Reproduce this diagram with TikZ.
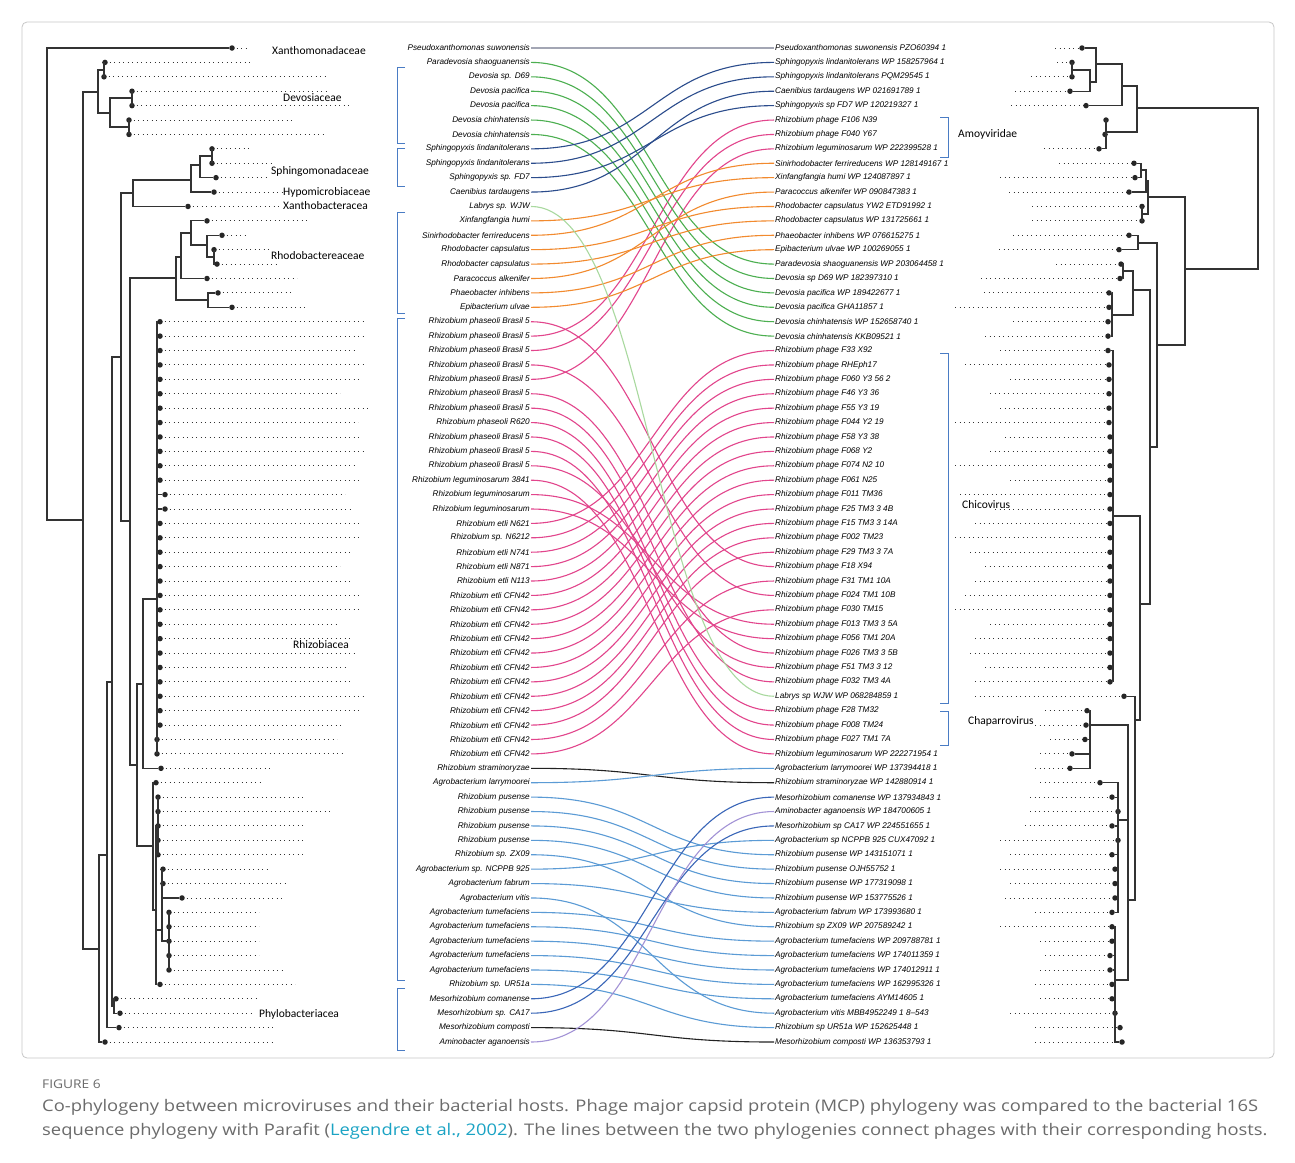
\documentclass[tikz,border=0pt]{standalone}
\usepackage{fontspec}
\setmainfont{Liberation Sans}
\newfontfamily\famfont{Carlito}
\newfontfamily\capfont{Open Sans}[FakeStretch=1.148]
\definecolor{cgray}{HTML}{A3A6B4}
\definecolor{cgreen}{HTML}{4CAF50}
\definecolor{cnavy}{HTML}{2B4C8C}
\definecolor{cpale}{HTML}{A9D99F}
\definecolor{corange}{HTML}{F28A2E}
\definecolor{cpink}{HTML}{E2458C}
\definecolor{cblack}{HTML}{222222}
\definecolor{csky}{HTML}{5B9BD5}
\definecolor{cblue}{HTML}{3A66B8}
\definecolor{cviolet}{HTML}{A393D6}
\definecolor{cbracket}{HTML}{4A7CC4}
\definecolor{cteal}{HTML}{1AA3C4}
\newcommand{\ry}[1]{48+(#1-1)*14.406}
\tikzset{
  hostlbl/.style={anchor=east,inner sep=1pt,font=\fontsize{8.2}{9}\selectfont\itshape},
  phagelbl/.style={anchor=west,inner sep=1pt,font=\fontsize{8.2}{9}\selectfont\itshape},
  famlbl/.style={anchor=west,inner sep=0pt,font=\famfont\fontsize{11.5}{12}\selectfont},
  tipdot/.style={circle,fill=black!85,inner sep=0pt,minimum size=5.5pt},
  branch/.style={draw=black!80,line width=1.2pt},
  leader/.style={black!80,line width=0.9pt,dash pattern=on 0.9pt off 3.6pt},
  link/.style={line width=1.1pt},
  clade/.style={draw=cbracket,line width=0.9pt},
  captxt/.style={anchor=west,inner sep=0pt,text=black!58,font=\capfont\fontsize{16}{18}\selectfont}
}
\begin{document}
\begin{tikzpicture}[x=1pt,y=-1pt]
\useasboundingbox (0,0) rectangle (1295,1162);
\fill[white] (0,0) rectangle (1295,1162);
\draw[black!22,line width=0.8pt,rounded corners=5pt] (22,22) rectangle (1274,1058);

% host names
\foreach \n/\t in {1/Pseudoxanthomonas suwonensis,2/Paradevosia shaoguanensis,3/Devosia sp. D69,4/Devosia pacifica,5/Devosia pacifica,6/Devosia chinhatensis,7/Devosia chinhatensis,8/Sphingopyxis lindanitolerans,9/Sphingopyxis lindanitolerans,10/Sphingopyxis sp. FD7,11/Caenibius tardaugens,12/Labrys sp. WJW,13/Xinfangfangia humi,14/Sinirhodobacter ferrireducens,15/Rhodobacter capsulatus,16/Rhodobacter capsulatus,17/Paracoccus alkenifer,18/Phaeobacter inhibens,19/Epibacterium ulvae,20/Rhizobium phaseoli Brasil 5,21/Rhizobium phaseoli Brasil 5,22/Rhizobium phaseoli Brasil 5,23/Rhizobium phaseoli Brasil 5,24/Rhizobium phaseoli Brasil 5,25/Rhizobium phaseoli Brasil 5,26/Rhizobium phaseoli Brasil 5,27/Rhizobium phaseoli R620,28/Rhizobium phaseoli Brasil 5,29/Rhizobium phaseoli Brasil 5,30/Rhizobium phaseoli Brasil 5,31/Rhizobium leguminosarum 3841,32/Rhizobium leguminosarum,33/Rhizobium leguminosarum,34/Rhizobium etli N621,35/Rhizobium sp. N6212,36/Rhizobium etli N741,37/Rhizobium etli N871,38/Rhizobium etli N113,39/Rhizobium etli CFN42,40/Rhizobium etli CFN42,41/Rhizobium etli CFN42,42/Rhizobium etli CFN42,43/Rhizobium etli CFN42,44/Rhizobium etli CFN42,45/Rhizobium etli CFN42,46/Rhizobium etli CFN42,47/Rhizobium etli CFN42,48/Rhizobium etli CFN42,49/Rhizobium etli CFN42,50/Rhizobium etli CFN42,51/Rhizobium straminoryzae,52/Agrobacterium larrymoorei,53/Rhizobium pusense,54/Rhizobium pusense,55/Rhizobium pusense,56/Rhizobium pusense,57/Rhizobium sp. ZX09,58/Agrobacterium sp. NCPPB 925,59/Agrobacterium fabrum,60/Agrobacterium vitis,61/Agrobacterium tumefaciens,62/Agrobacterium tumefaciens,63/Agrobacterium tumefaciens,64/Agrobacterium tumefaciens,65/Agrobacterium tumefaciens,66/Rhizobium sp. UR51a,67/Mesorhizobium comanense,68/Mesorhizobium sp. CA17,69/Mesorhizobium composti,70/Aminobacter aganoensis}
  \node[hostlbl] (h\n) at (531,{\ry{\n}}) {\t};

% phage names
\foreach \n/\t in {1/Pseudoxanthomonas suwonensis PZO60394 1,2/Sphingopyxis lindanitolerans WP 158257964 1,3/Sphingopyxis lindanitolerans PQM29545 1,4/Caenibius tardaugens WP 021691789 1,5/Sphingopyxis sp FD7 WP 120219327 1,6/Rhizobium phage F106 N39,7/Rhizobium phage F040 Y67,8/Rhizobium leguminosarum WP 222399528 1,9/Sinirhodobacter ferrireducens WP 128149167 1,10/Xinfangfangia humi WP 124087897 1,11/Paracoccus alkenifer WP 090847383 1,12/Rhodobacter capsulatus YW2 ETD91992 1,13/Rhodobacter capsulatus WP 131725661 1,14/Phaeobacter inhibens WP 076615275 1,15/Epibacterium ulvae WP 100269055 1,16/Paradevosia shaoguanensis WP 203064458 1,17/Devosia sp D69 WP 182397310 1,18/Devosia pacifica WP 189422677 1,19/Devosia pacifica GHA11857 1,20/Devosia chinhatensis WP 152658740 1,21/Devosia chinhatensis KKB09521 1,22/Rhizobium phage F33 X92,23/Rhizobium phage RHEph17,24/Rhizobium phage F060 Y3 56 2,25/Rhizobium phage F46 Y3 36,26/Rhizobium phage F55 Y3 19,27/Rhizobium phage F044 Y2 19,28/Rhizobium phage F58 Y3 38,29/Rhizobium phage F068 Y2,30/Rhizobium phage F074 N2 10,31/Rhizobium phage F061 N25,32/Rhizobium phage F011 TM36,33/Rhizobium phage F25 TM3 3 4B,34/Rhizobium phage F15 TM3 3 14A,35/Rhizobium phage F002 TM23,36/Rhizobium phage F29 TM3 3 7A,37/Rhizobium phage F18 X94,38/Rhizobium phage F31 TM1 10A,39/Rhizobium phage F024 TM1 10B,40/Rhizobium phage F030 TM15,41/Rhizobium phage F013 TM3 3 5A,42/Rhizobium phage F056 TM1 20A,43/Rhizobium phage F026 TM3 3 5B,44/Rhizobium phage F51 TM3 3 12,45/Rhizobium phage F032 TM3 4A,46/Labrys sp WJW WP 068284859 1,47/Rhizobium phage F28 TM32,48/Rhizobium phage F008 TM24,49/Rhizobium phage F027 TM1 7A,50/Rhizobium leguminosarum WP 222271954 1,51/Agrobacterium larrymoorei WP 137394418 1,52/Rhizobium straminoryzae WP 142880914 1,53/Mesorhizobium comanense WP 137934843 1,54/Aminobacter aganoensis WP 184700605 1,55/Mesorhizobium sp CA17 WP 224551655 1,56/Agrobacterium sp NCPPB 925 CUX47092 1,57/Rhizobium pusense WP 143151071 1,58/Rhizobium pusense OJH55752 1,59/Rhizobium pusense WP 177319098 1,60/Rhizobium pusense WP 153775526 1,61/Agrobacterium fabrum WP 173993680 1,62/Rhizobium sp ZX09 WP 207589242 1,63/Agrobacterium tumefaciens WP 209788781 1,64/Agrobacterium tumefaciens WP 174011359 1,65/Agrobacterium tumefaciens WP 174012911 1,66/Agrobacterium tumefaciens WP 162995326 1,67/Agrobacterium tumefaciens AYM14605 1,68/Agrobacterium vitis MBB4952249 1 8–543,69/Rhizobium sp UR51a WP 152625448 1,70/Mesorhizobium composti WP 136353793 1}
  \node[phagelbl] (p\n) at (774,{\ry{\n}}) {\t};

% host -> phage links
\foreach \a/\b/\c in {20/37/cpink,21/6/cpink,22/7/cpink,23/39/cpink,24/8/cpink,25/43/cpink,26/45/cpink,27/47/cpink,28/48/cpink,29/49/cpink,30/44/cpink,31/50/cpink,32/41/cpink,33/42/cpink,34/22/cpink,35/23/cpink,36/24/cpink,37/25/cpink,38/26/cpink,39/27/cpink,40/28/cpink,41/29/cpink,42/30/cpink,43/31/cpink,44/32/cpink,45/33/cpink,46/34/cpink,47/35/cpink,48/36/cpink,49/38/cpink,50/40/cpink,1/1/cgray,2/16/cgreen,3/17/cgreen,4/18/cgreen,5/19/cgreen,6/20/cgreen,7/21/cgreen,13/10/corange,14/9/corange,15/12/corange,16/13/corange,17/11/corange,18/14/corange,19/15/corange,8/2/cnavy,9/3/cnavy,10/5/cnavy,11/4/cnavy,12/46/cpale,51/52/cblack,52/51/csky,53/57/csky,54/58/csky,55/59/csky,56/60/csky,57/62/csky,58/56/csky,59/61/csky,60/68/csky,61/63/csky,62/64/csky,63/65/csky,64/66/csky,65/67/csky,66/69/csky,67/53/cblue,68/55/cblue,69/70/cblack,70/54/cviolet}
  \draw[link,\c] (h\a.east) .. controls +(120,0) and +(-120,0) .. (p\b.west);

% clade brackets
\foreach \u/\v in {67/143,148/186,212/313,318/980,988/1050}
  \draw[clade] (405,\u) -- (397,\u) -- (397,\v) -- (405,\v);
\foreach \u/\v in {117/157,353/703,711/745}
  \draw[clade] (940,\u) -- (948,\u) -- (948,\v) -- (940,\v);

% left tree: tips
\foreach \n/\x/\e in {1/232/248,2/105/253,3/104/328,4/132/327,5/132/352,6/129/295,7/129/325,8/212/252,9/212/272,10/216/268,11/214/283,12/188/282,13/207/307,14/222/248,15/214/270,16/217/278,17/207/297,18/218/293,19/232/308,20/160/363,21/160/365,22/160/355,23/160/365,24/160/360,25/160/340,26/160/370,27/160/358,28/160/362,29/160/366,30/160/355,31/160/360,32/165/345,33/165/352,34/160/362,35/160/360,36/160/352,37/160/340,38/160/350,39/160/360,40/160/362,41/160/338,42/160/350,43/160/355,44/160/345,45/160/350,46/160/365,47/160/360,48/160/342,49/157/337,50/157/342,51/161/272,52/156/262,53/158/303,54/158/333,55/158/303,56/158/303,57/158/303,58/163/268,59/163/288,60/182/282,61/169/259,62/169/259,63/169/259,64/169/259,65/169/283,66/160/295,67/116/257,68/120/253,69/119/275,70/105/275}{
  \draw[leader] (\x,{\ry{\n}}) -- (\e,{\ry{\n}});
  \node[tipdot] (lt\n) at (\x,{\ry{\n}}) {};
}

% left tree: inner nodes
\coordinate (L0) at (47,284);   \coordinate (Lb) at (83,520);
\coordinate (Ld) at (98,92);    \coordinate (Ld1) at (104,70);
\coordinate (Ld2) at (110,113); \coordinate (Ld3) at (132,98);
\coordinate (Ld4) at (129,127); \coordinate (Lp) at (99,949);
\coordinate (Lq) at (107,855);  \coordinate (Lr) at (112,682);
\coordinate (Lpr) at (114,1006);\coordinate (Ls) at (121,357);
\coordinate (Lsp) at (133,193); \coordinate (Lsp1) at (191,180);
\coordinate (Lsp2) at (200,165);\coordinate (Lsp3) at (212,156);
\coordinate (Lt) at (130,521);  \coordinate (Lrb) at (176,278);
\coordinate (Lrb1) at (181,257);\coordinate (Lrb2) at (208,300);
\coordinate (Lrb3) at (191,233);\coordinate (Lrb4) at (207,245);
\coordinate (Lrb5) at (214,257);\coordinate (Lu) at (137,765);
\coordinate (Lv) at (143,684);  \coordinate (Lw) at (157,599);
\coordinate (Lx) at (153,846);  \coordinate (Ly) at (156,910);
\coordinate (Lz) at (158,826);  \coordinate (Lm) at (162,930);
\coordinate (Ln) at (169,941);

\foreach \c/\p in {lt1/L0,Lb/L0,Ld/Lb,Lp/Lb,Ld1/Ld,Ld2/Ld,lt2/Ld1,lt3/Ld1,Ld3/Ld2,Ld4/Ld2,lt4/Ld3,lt5/Ld3,lt6/Ld4,lt7/Ld4,Lq/Lp,lt70/Lp,Lr/Lq,lt69/Lq,Ls/Lr,Lpr/Lr,lt67/Lpr,lt68/Lpr,Lsp/Ls,Lt/Ls,Lsp1/Lsp,lt12/Lsp,Lsp2/Lsp1,lt11/Lsp1,Lsp3/Lsp2,lt10/Lsp2,lt8/Lsp3,lt9/Lsp3,Lrb/Lt,Lu/Lt,Lrb1/Lrb,Lrb2/Lrb,Lrb3/Lrb1,lt17/Lrb1,lt13/Lrb3,Lrb4/Lrb3,lt14/Lrb4,Lrb5/Lrb4,lt15/Lrb5,lt16/Lrb5,lt18/Lrb2,lt19/Lrb2,Lv/Lu,Lx/Lu,Lw/Lv,lt51/Lv,lt52/Lx,Ly/Lx,Lz/Ly,Lm/Ly,lt66/Ly,lt53/Lz,lt54/Lz,lt55/Lz,lt56/Lz,lt57/Lz,lt58/Lm,lt59/Lm,lt60/Lm,Ln/Lm,lt61/Ln,lt62/Ln,lt63/Ln,lt64/Ln,lt65/Ln}
  \draw[branch] (\c) -| (\p);
\foreach \n in {20,...,50}
  \draw[branch] (lt\n) -| (Lw);

% right tree: tips
\foreach \n/\x/\s in {1/1082/1055,2/1072/1057,3/1072/1031,4/1070/1015,5/1086/1011,6/1106/1106,7/1105/1105,8/1099/1044,9/1134/1059,10/1135/1000,11/1129/1009,12/1142/1032,13/1142/1032,14/1129/1013,15/1119/999,16/1121/1056,17/1120/981,18/1109/984,19/1109/955,20/1108/1013,21/1108/985,22/1108/1000,23/1109/965,24/1109/1010,25/1109/990,26/1109/1000,27/1109/955,28/1110/1005,29/1110/990,30/1110/955,31/1110/1010,32/1110/960,33/1110/995,34/1110/975,35/1110/955,36/1110/970,37/1110/985,38/1110/975,39/1110/965,40/1110/955,41/1110/990,42/1110/975,43/1110/970,44/1110/985,45/1110/975,46/1124/975,47/1087/1045,48/1086/1035,49/1085/1050,50/1072/1040,51/1070/1035,52/1100/1040,53/1112/1030,54/1118/1030,55/1112/1025,56/1118/1000,57/1112/1010,58/1115/1000,59/1115/1010,60/1115/1005,61/1112/1035,62/1112/1000,63/1112/1040,64/1110/1045,65/1110/1040,66/1112/1035,67/1112/1040,68/1115/1010,69/1120/1035,70/1122/1035}{
  \draw[leader] (\s,{\ry{\n}}) -- (\x,{\ry{\n}});
  \node[tipdot] (rt\n) at (\x,{\ry{\n}}) {};
}

% right tree: inner nodes
\coordinate (E) at (1258,188);  \coordinate (D) at (1137,108);
\coordinate (C) at (1122,86);   \coordinate (A) at (1096,64);
\coordinate (B) at (1090,82);   \coordinate (B1) at (1072,70);
\coordinate (Am) at (1106,132); \coordinate (F) at (1185,269);
\coordinate (G) at (1148,197);  \coordinate (G1) at (1141,170);
\coordinate (G2) at (1146,181); \coordinate (G3) at (1142,214);
\coordinate (H) at (1157,345);  \coordinate (H1) at (1138,243);
\coordinate (P) at (1150,447);  \coordinate (Dv) at (1133,290);
\coordinate (Dv1) at (1123,271);\coordinate (Dv2) at (1112,315);
\coordinate (K) at (1140,604);  \coordinate (Ch) at (1113,516);
\coordinate (K2) at (1135,720); \coordinate (Cp) at (1090,725);
\coordinate (K3) at (1128,900); \coordinate (M) at (1118,820);
\coordinate (N) at (1115,980);

\foreach \c/\p in {D/E,F/E,C/D,Am/D,A/C,rt5/C,rt1/A,B/A,B1/B,rt4/B,rt2/B1,rt3/B1,rt6/Am,rt7/Am,rt8/Am,G/F,H/F,G2/G,G3/G,G1/G2,rt11/G2,rt9/G1,rt10/G1,rt12/G3,rt13/G3,H1/H,P/H,rt14/H1,rt15/H1,Dv/P,K/P,Dv1/Dv,Dv2/Dv,rt16/Dv1,rt17/Dv1,rt18/Dv2,rt19/Dv2,rt20/Dv2,rt21/Dv2,Ch/K,K2/K,rt46/K2,K3/K2,Cp/K3,M/K3,N/K3,rt47/Cp,rt48/Cp,rt49/Cp,rt50/Cp,rt51/Cp}
  \draw[branch] (\c) -| (\p);
\foreach \n in {22,...,45}
  \draw[branch] (rt\n) -| (Ch);
\foreach \n in {52,...,61}
  \draw[branch] (rt\n) -| (M);
\foreach \n in {62,...,70}
  \draw[branch] (rt\n) -| (N);

% family names
\foreach \x/\y/\t in {272/51/Xanthomonadaceae,283/98/Devosiaceae,271/171/Sphingomonadaceae,283/192/Hypomicrobiaceae,283/206/Xanthobacteracea,271/256/Rhodobactereaceae,293/645/Rhizobiacea,259/1014/Phylobacteriacea,958/134/Amoyviridae,962/505/Chicovirus,968/721/Chaparrovirus}
  \node[famlbl] (f\t) at (\x,\y) {\t};

% caption
\node[anchor=west,inner sep=0pt,text=black!58,font=\capfont\fontsize{12}{14}\selectfont] (figno) at (42,1084) {FIGURE 6};
\node[captxt] (cap1) at (42,1107)
  {Co-phylogeny between microviruses and their bacterial hosts. Phage major capsid protein (MCP) phylogeny was compared to the bacterial 16S};
\node[captxt] (cap2) at (42,1131)
  {sequence phylogeny with Parafit (\textcolor{cteal}{Legendre et al., 2002}). The lines between the two phylogenies connect phages with their corresponding hosts.};
\end{tikzpicture}
\end{document}
